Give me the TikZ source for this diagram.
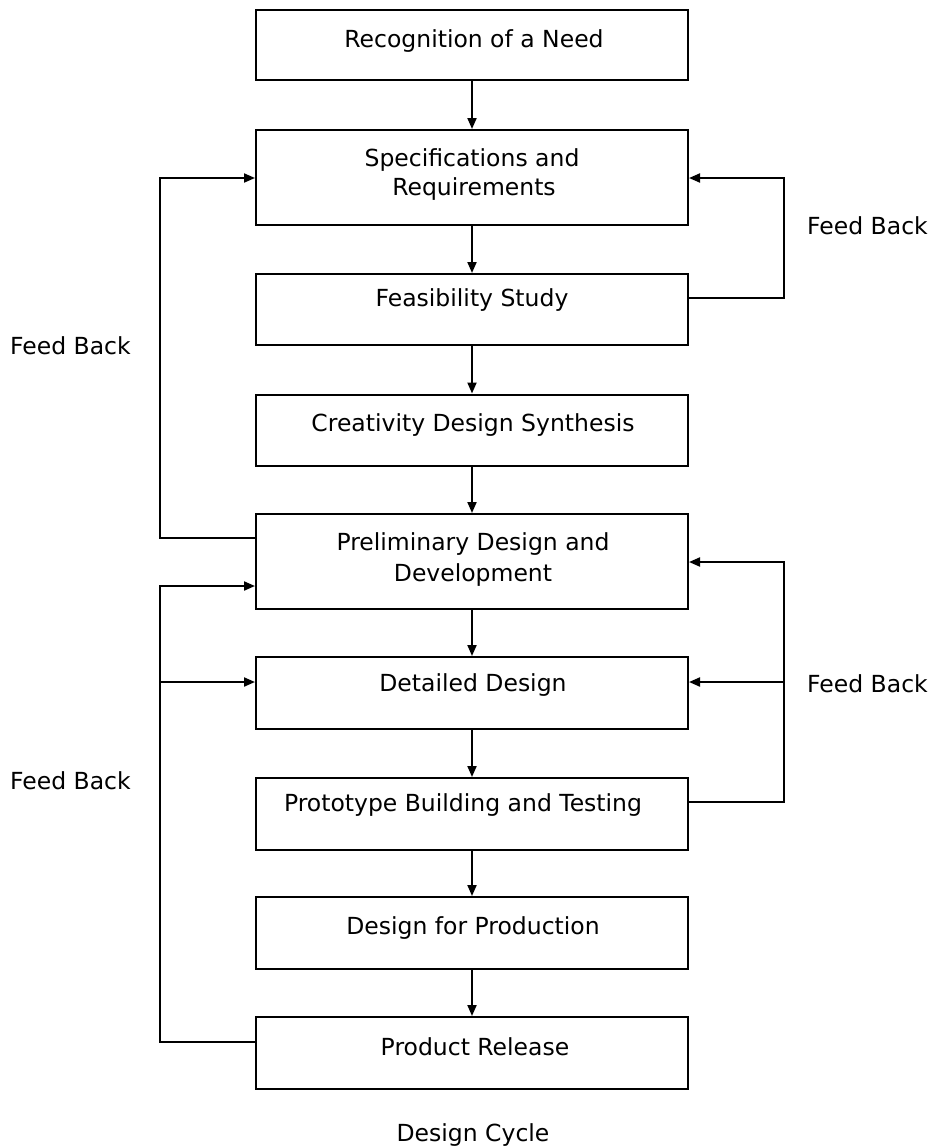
\documentclass[tikz,border=0pt]{standalone}
\usepackage{fontspec}
\setmainfont{DejaVu Sans}
\usetikzlibrary{arrows.meta}
\begin{document}
\begin{tikzpicture}[x=1pt,y=-1pt,
  box/.style={draw,line width=2pt,minimum width=432pt,inner sep=0pt},
  lbl/.style={font=\fontsize{23.5}{29}\selectfont,inner sep=0pt,anchor=base,align=center},
  conn/.style={line width=2pt},
  arr/.style={conn,-{Triangle[length=11pt,width=9pt]}}]
\useasboundingbox[fill=white] (0,0) rectangle (933,1148);
% boxes
\node[box,minimum height=70pt] (b1) at (472,45) {};
\node[box,minimum height=95pt] (b2) at (472,177.5) {};
\node[box,minimum height=71pt] (b3) at (472,309.5) {};
\node[box,minimum height=71pt] (b4) at (472,430) {};
\node[box,minimum height=95pt] (b5) at (472,561.5) {};
\node[box,minimum height=72pt] (b6) at (472,693) {};
\node[box,minimum height=72pt] (b7) at (472,814) {};
\node[box,minimum height=72pt] (b8) at (472,933) {};
\node[box,minimum height=72pt] (b9) at (472,1053) {};
% texts
\node[lbl] (t1) at (474,48) {Recognition of a Need};
\node[lbl] (t2a) at (472,166) {Specifications and};
\node[lbl] (t2b) at (474,195) {Requirements};
\node[lbl] (t3) at (472,306) {Feasibility Study};
\node[lbl] (t4) at (473,431) {Creativity Design Synthesis};
\node[lbl] (t5a) at (473,550) {Preliminary Design and};
\node[lbl] (t5b) at (473,581) {Development};
\node[lbl] (t6) at (473,691) {Detailed Design};
\node[lbl] (t7) at (463,811) {Prototype Building and Testing};
\node[lbl] (t8) at (473,934) {Design for Production};
\node[lbl] (t9) at (475,1055) {Product Release};
\node[lbl,anchor=base west] (f1) at (807,234) {Feed Back};
\node[lbl,anchor=base west] (f2) at (10,354) {Feed Back};
\node[lbl,anchor=base west] (f3) at (807,692) {Feed Back};
\node[lbl,anchor=base west] (f4) at (10,789) {Feed Back};
\node[lbl] (cap) at (473,1141) {Design Cycle};
% main flow
\foreach \a/\b in {b1/b2,b2/b3,b3/b4,b4/b5,b5/b6,b6/b7,b7/b8,b8/b9}
  \draw[arr] (\a.south) -- (\b.north);
% bend coordinates
\coordinate (r1) at (784,298);
\coordinate (r1t) at (784,178);
\coordinate (l1) at (160,538);
\coordinate (l1t) at (160,178);
\coordinate (r2) at (784,802);
\coordinate (r2m) at (784,682);
\coordinate (r2t) at (784,562);
\coordinate (l2) at (160,1042);
\coordinate (l2m) at (160,682);
\coordinate (l2t) at (160,586);
% feedback loops
\draw[arr] (b3.east |- r1) -- (r1) -- (r1t) -- (b2.east |- r1t);
\draw[arr] (b5.west |- l1) -- (l1) -- (l1t) -- (b2.west |- l1t);
\draw[arr] (b7.east |- r2) -- (r2) -- (r2t) -- (b5.east |- r2t);
\draw[arr] (r2m) -- (b6.east |- r2m);
\draw[arr] (b9.west |- l2) -- (l2) -- (l2t) -- (b5.west |- l2t);
\draw[arr] (l2m) -- (b6.west |- l2m);
\end{tikzpicture}
\end{document}
